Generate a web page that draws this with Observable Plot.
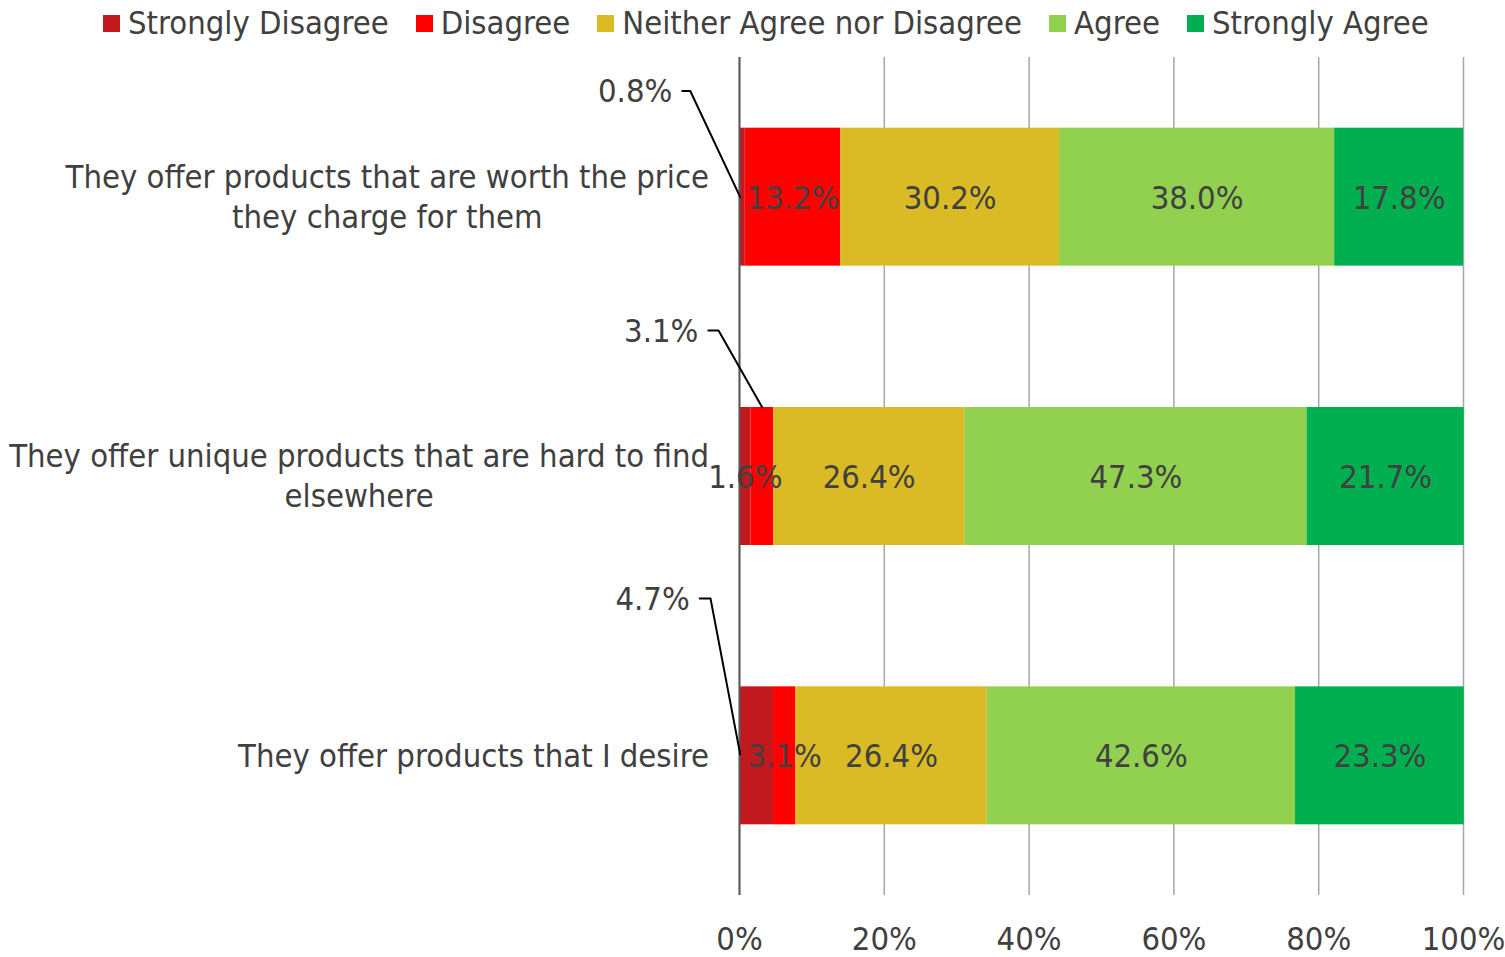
<!DOCTYPE html>
<html><head><meta charset="utf-8">
<script src="https://cdn.jsdelivr.net/npm/d3@7"></script>
<script src="https://cdn.jsdelivr.net/npm/@observablehq/plot@0.6"></script>
<style>
body{margin:0;background:#fff;font-family:"DejaVu Sans Condensed","DejaVu Sans",sans-serif;color:#404040}
#legend{height:46px;display:flex;align-items:center;padding-left:103px;font-size:32.5px;white-space:nowrap}
.item{display:flex;align-items:center;margin-right:27px}
.sw{width:17px;height:17px;margin-right:8px}
</style></head><body>
<div id="legend"></div><div id="chart"></div>
<script>
// ---- data ----
const categories = [
  "They offer products that are worth the price\nthey charge for them",
  "They offer unique products that are hard to find\nelsewhere",
  "They offer products that I desire"
];
const series = ["Strongly Disagree", "Disagree", "Neither Agree nor Disagree", "Agree", "Strongly Agree"];
const stronglyDisagree = [0.8, 1.6, 4.7];
const disagree = [13.2, 3.1, 3.1];
const neither = [30.2, 26.4, 26.4];
const agree = [38.0, 47.3, 42.6];
const stronglyAgree = [17.8, 21.7, 23.3];
const xTicks = [0, 20, 40, 60, 80, 100];
// which segments carry an outside (callout) label: [category index, series index]
const calloutSegments = [[0, 0], [1, 1], [2, 0]];

// ---- styles / layout ----
const colors = ["#C1191D", "#FF0000", "#DBBB25", "#92D050", "#00B050"];
const textColor = "#404040";
const fontSize = 32.5;
const halfBar = 0.247;
// callout leader layout (label level relative to category, elbow x, end point)
const calloutLayout = [
  {level: -0.38, ax: -7.9, bx: -6.8, cx: 0.1, cy: 0},
  {level: -0.523, ax: -4.3, bx: -2.9, cx: null, cy: -halfBar},
  {level: -0.563, ax: -5.5, bx: -4.0, cx: 0.1, cy: -0.005}
];

// ---- build table ----
const valuesBySeries = [stronglyDisagree, disagree, neither, agree, stronglyAgree];
const rows = [];
categories.forEach((c, i) => {
  let acc = 0;
  valuesBySeries.forEach((vals, s) => {
    const v = vals[i];
    rows.push({cat: i, series: s, value: v, x1: acc, x2: acc + v});
    acc += v;
  });
});
const isCallout = d => calloutSegments.some(([c, s]) => c === d.cat && s === d.series);
const fmt = v => v.toFixed(1) + "%";

const calloutLabels = [];
const leaderPts = [];
calloutSegments.forEach(([c, s], k) => {
  const seg = rows.find(d => d.cat === c && d.series === s);
  const L = calloutLayout[k];
  const cx = L.cx === null ? (seg.x1 + seg.x2) / 2 : L.cx;
  calloutLabels.push({x: L.ax, y: c + L.level, text: fmt(seg.value)});
  leaderPts.push({k, x: L.ax, y: c + L.level});
  leaderPts.push({k, x: L.bx, y: c + L.level});
  leaderPts.push({k, x: cx, y: c + L.cy});
});

// ---- legend ----
const legend = document.getElementById("legend");
series.forEach((name, s) => {
  const it = document.createElement("div");
  it.className = "item";
  it.innerHTML = `<div class="sw" style="background:${colors[s]}"></div><span>${name}</span>`;
  legend.appendChild(it);
});

// ---- chart ----
const chart = Plot.plot({
  width: 1505,
  height: 911,
  marginLeft: 739,
  marginRight: 42,
  marginTop: 11,
  marginBottom: 62,
  style: {fontFamily: '"DejaVu Sans Condensed","DejaVu Sans",sans-serif', color: textColor, background: "#fff"},
  x: {domain: [0, 100]},
  y: {domain: [-0.5, 2.5], reverse: true},
  marks: [
    Plot.gridX({ticks: xTicks, stroke: "#a6a6a6", strokeOpacity: 1, strokeWidth: 1.5}),
    Plot.rectX(rows, {x1: "x1", x2: "x2", y1: d => d.cat - halfBar, y2: d => d.cat + halfBar, fill: d => colors[d.series]}),
    Plot.ruleX([0], {stroke: "#595959", strokeWidth: 2}),
    Plot.text(rows.filter(d => !isCallout(d)), {x: d => (d.x1 + d.x2) / 2, y: "cat", text: d => fmt(d.value), fill: textColor, fontSize, dy: 1}),
    Plot.line(leaderPts, {x: "x", y: "y", z: "k", stroke: "#000", strokeWidth: 2}),
    Plot.text(calloutLabels, {x: "x", y: "y", text: "text", textAnchor: "end", dx: -10, dy: 1, fill: textColor, fontSize}),
    Plot.axisX({ticks: xTicks, tickFormat: d => d + "%", tickSize: 0, tickPadding: 31, fontSize, label: null}),
    Plot.axisY({ticks: [0, 1, 2], tickFormat: i => categories[i], tickSize: 0, tickPadding: 30, fontSize, lineHeight: 1.23, textAnchor: "end", dy: -2, label: null})
  ]
});
document.getElementById("chart").appendChild(chart);

// center multi-line category labels within their right-aligned block
chart.querySelectorAll('g[aria-label="y-axis tick label"] text').forEach(t => {
  const w = t.getBBox().width;
  t.setAttribute("text-anchor", "middle");
  const tspans = t.querySelectorAll("tspan");
  if (tspans.length) tspans.forEach(ts => ts.setAttribute("x", String(-w / 2)));
  else t.setAttribute("x", String(+(t.getAttribute("x") || 0) - w / 2));
});
</script>
</body></html>
